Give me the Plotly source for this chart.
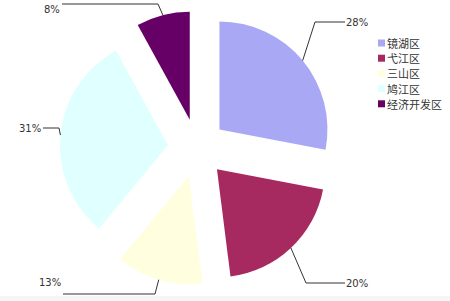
import math
import plotly.graph_objects as go

# ---- data ----
districts = ["镜湖区", "弋江区", "三山区", "鸠江区", "经济开发区"]
shares = [28, 20, 13, 31, 8]
pct_labels = ["28%", "20%", "13%", "31%", "8%"]

# ---- styles / layout ----
colors = ["#A8A8F4", "#A6295F", "#FFFFE0", "#E0FFFF", "#660066"]
W, H = 450, 301
CX, CY = 197.0, 148.0      # pie centre (px)
R = 108.0                  # pie radius (px)
PULL = 0.27
# elbow point and label-end point for each leader line (px), label side
leader_layout = [
    ((315, 22), (345, 22), "left", 22),
    ((306, 283), (345, 283), "left", 283),
    ((155, 294), (63, 294), "right", 282),
    ((59, 128), (43, 128), "right", 128),
    ((158, 4), (62, 4), "right", 10),
]

def px2paper(x, y):
    return x / W, 1 - y / H

half = R * (1 + PULL)
fig = go.Figure(go.Pie(
    labels=districts, values=shares, sort=False, direction="clockwise",
    rotation=0, pull=[PULL] * len(shares), textinfo="none", hoverinfo="label+percent",
    marker=dict(colors=colors, line=dict(width=0)),
    domain=dict(x=[(CX - half) / W, (CX + half) / W],
                y=[1 - (CY + half) / H, 1 - (CY - half) / H]),
    showlegend=False,
))

shapes = []
annotations = []
total = sum(shares)
cum = 0
for i, v in enumerate(shares):
    mid = (cum + v / 2) / total * 2 * math.pi
    cum += v
    dx, dy = math.sin(mid), -math.cos(mid)
    vx, vy = CX + PULL * R * dx, CY + PULL * R * dy
    ax, ay = vx + R * dx, vy + R * dy
    (ex, ey), (lx, ly), side, ty = leader_layout[i]
    p0 = px2paper(ax, ay); p1 = px2paper(ex, ey); p2 = px2paper(lx, ly)
    shapes.append(dict(type="path", xref="paper", yref="paper",
                       path=f"M {p0[0]} {p0[1]} L {p1[0]} {p1[1]} L {p2[0]} {p2[1]}",
                       line=dict(color="#333333", width=1)))
    tx, tyy = px2paper(lx + (0 if side == "left" else -1), ty)
    annotations.append(dict(xref="paper", yref="paper", x=tx, y=tyy, text=pct_labels[i],
                            showarrow=False, xanchor=side, yanchor="middle",
                            font=dict(family="DejaVu Sans", size=10, color="#333333"),
                            borderpad=0))

# manual legend
LX, LY0, LDY = 378, 43, 15.2
for i, name in enumerate(districts):
    y = LY0 + i * LDY
    a = px2paper(LX, y - 3.5); b = px2paper(LX + 7, y + 3.5)
    shapes.append(dict(type="rect", xref="paper", yref="paper",
                       x0=a[0], y0=b[1], x1=b[0], y1=a[1],
                       fillcolor=colors[i], line=dict(width=0)))
    t = px2paper(LX + 8, y)
    annotations.append(dict(xref="paper", yref="paper", x=t[0], y=t[1], text=name,
                            showarrow=False, xanchor="left", yanchor="middle",
                            font=dict(family="Noto Sans CJK SC", size=11, color="#333333"),
                            borderpad=0))

# faint bottom strip
shapes.append(dict(type="rect", xref="paper", yref="paper", x0=0, x1=1, y0=0, y1=5 / H,
                   fillcolor="#F6F6F6", line=dict(width=0), layer="below"))

fig.update_layout(width=W, height=H, margin=dict(l=0, r=0, t=0, b=0),
                  paper_bgcolor="white", plot_bgcolor="white",
                  shapes=shapes, annotations=annotations)
fig.write_html("out.html")
